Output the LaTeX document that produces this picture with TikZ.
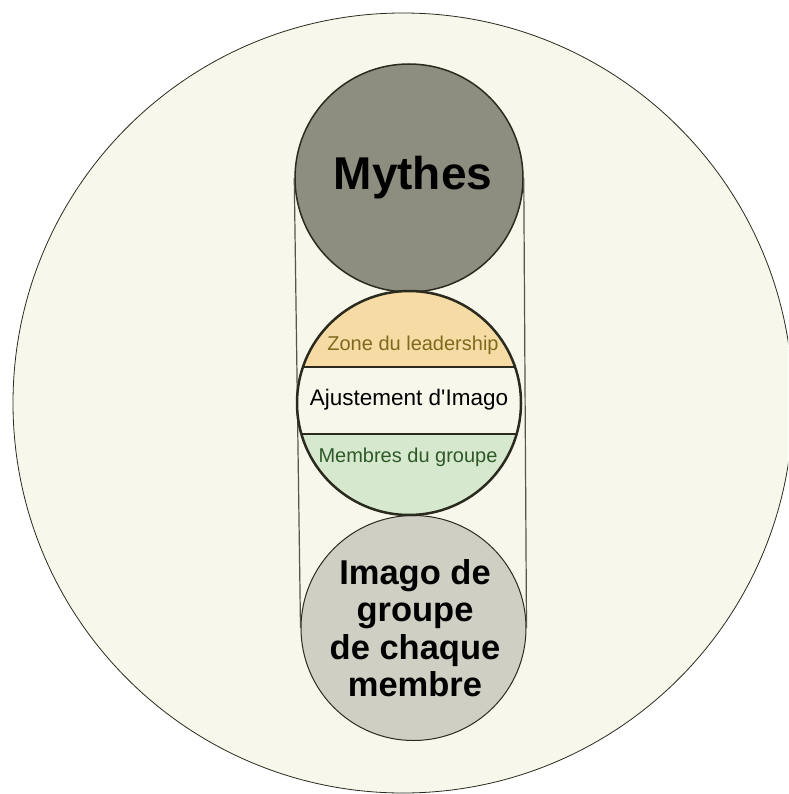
\documentclass[tikz,border=0pt]{standalone}
\usepackage{fontspec}
\setmainfont{Liberation Sans}
\usetikzlibrary{calc}

\definecolor{fondcol}{HTML}{F7F7EC}
\definecolor{mythcol}{HTML}{8E8E80}
\definecolor{imagocol}{HTML}{CFCFC3}
\definecolor{zonecol}{HTML}{F6DCA4}
\definecolor{membrecol}{HTML}{D6E8CD}
\definecolor{traitcol}{HTML}{2A2A1E}
\definecolor{zonetxt}{HTML}{7D6A1E}
\definecolor{membretxt}{HTML}{2E5A2A}

\begin{document}
\begin{tikzpicture}[x=1pt, y=-1pt,
    disque/.style={circle, draw=traitcol, inner sep=0pt, minimum size=#1}]
        \useasboundingbox (0,0) rectangle (788,794);
        \clip (0,0) rectangle (788,794);

        % grand cercle de fond
        \node[disque=780pt, fill=fondcol, line width=0.8pt] (fond) at (403,403) {};

        % les deux cercles gris
        \node[disque=228pt, fill=mythcol, line width=1.5pt] (mythes) at (409,178) {};
        \node[disque=225pt, fill=imagocol, line width=1pt] (imago) at (413.5,628) {};

        % lignes verticales
        \draw[traitcol!80, line width=1.2pt] (mythes.west) -- (imago.west);
        \draw[traitcol!80, line width=1.2pt] (mythes.east) -- (imago.east);

        % cercle du milieu en trois bandes
        \node[disque=224pt, fill=fondcol, line width=2.5pt, path picture={
            \fill[zonecol] ($(path picture bounding box.center)+(-120,-120)$) rectangle ($(path picture bounding box.center)+(120,-36)$);
            \fill[membrecol] ($(path picture bounding box.center)+(-120,31)$) rectangle ($(path picture bounding box.center)+(120,120)$);
            \draw[traitcol, line width=2.5pt] ($(path picture bounding box.center)+(-120,-36)$) -- ++(240,0);
            \draw[traitcol, line width=2.5pt] ($(path picture bounding box.center)+(-120,31)$) -- ++(240,0);
        }] (ajust) at (409,403) {};

        % textes
        \node[font=\bfseries\fontsize{46}{50}\selectfont, text=black] (tmythes) at (413,178) {Mythes};
        \node[font=\fontsize{20}{24}\selectfont, text=zonetxt] (tzone) at (413,345) {Zone du leadership};
        \node[font=\fontsize{22.5}{26}\selectfont, text=black] (tajust) at (409,400) {Ajustement d\textquotesingle Imago};
        \node[font=\fontsize{20}{24}\selectfont, text=membretxt] (tmembres) at (408,457) {Membres du groupe};
        \node[font=\bfseries\fontsize{34.5}{37.5}\selectfont, align=center, text=black] (timago) at (415,628)
            {Imago de\\groupe\\de chaque\\membre};

    \end{tikzpicture}
\end{document}
